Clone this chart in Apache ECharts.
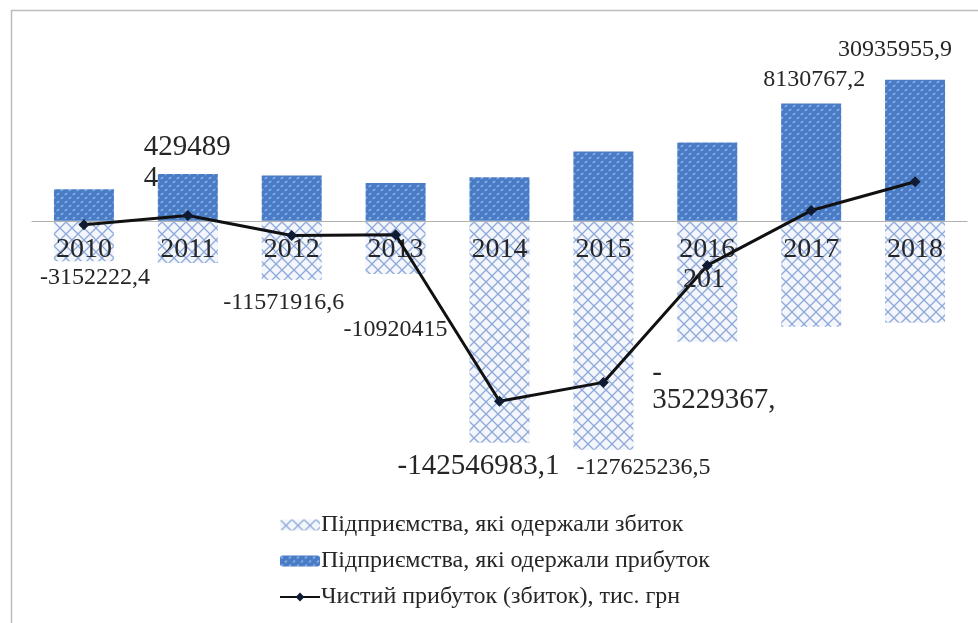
<!DOCTYPE html>
<html>
<head>
<meta charset="utf-8">
<script src="https://cdn.jsdelivr.net/npm/echarts@6/dist/echarts.min.js"></script>
<style>html,body{margin:0;padding:0;background:#fff}#c{width:978px;height:623px}</style>
</head>
<body>
<div id="c"></div>
<script>
// ---- data ----
const years = ['2010','2011','2012','2013','2014','2015','2016','2017','2018'];
const lossValues = [-32.0e6, -33.2e6, -46.6e6, -41.9e6, -175.4e6, -180.9e6, -95.6e6, -83.7e6, -80.6e6];
const profitValues = [25.0e6, 37.1e6, 35.8e6, 30.0e6, 34.5e6, 54.7e6, 61.9e6, 92.7e6, 111.4e6];
const netValues = [-3152222.4, 4294894, -11571916.6, -10920415, -142546983.1, -127625236.5, -35229367, 8130767.2, 30935955.9];
const netLabelTexts = ['-3152222,4', '429489\n4', '-11571916,6', '-10920415', '-142546983,1', '-127625236,5', '-\n35229367,', '8130767,2', '30935955,9'];
const seriesNames = ['Підприємства, які одержали збиток', 'Підприємства, які одержали прибуток', 'Чистий прибуток (збиток), тис. грн'];
const strayText = '201';

// ---- label layout (style only) ----
const labelLayout = [
  {dx: 11, dy: 53, size: 24, align: 'center'},
  {dx: -44, dy: -53, size: 29, align: 'left', lh: 31},
  {dx: -8, dy: 67, size: 24, align: 'center'},
  {dx: 0, dy: 95, size: 24, align: 'center'},
  {dx: -21, dy: 65, size: 29, align: 'center'},
  {dx: 40, dy: 85, size: 24, align: 'center'},
  {dx: -55, dy: 121, size: 29, align: 'left', lh: 27},
  {dx: 3, dy: -131, size: 24, align: 'center'},
  {dx: -20, dy: -132, size: 24, align: 'center'}
];

// ---- patterns ----
function profitPattern() {
  const c = document.createElement('canvas');
  c.width = 8; c.height = 8;
  const g = c.getContext('2d');
  g.fillStyle = '#4a7cc6';
  g.fillRect(0, 0, 8, 8);
  g.fillStyle = '#8db3ea';
  g.beginPath(); g.ellipse(2, 2, 1.6, 0.9, -0.6, 0, Math.PI * 2); g.fill();
  g.beginPath(); g.ellipse(6, 6, 1.6, 0.9, -0.6, 0, Math.PI * 2); g.fill();
  return c;
}
function lossPattern() {
  const c = document.createElement('canvas');
  c.width = 12; c.height = 12;
  const g = c.getContext('2d');
  g.fillStyle = '#f3f6fc';
  g.fillRect(0, 0, 12, 12);
  g.strokeStyle = '#8ea9d8';
  g.lineWidth = 1.3;
  g.beginPath();
  g.moveTo(0, 0); g.lineTo(12, 12);
  g.moveTo(12, 0); g.lineTo(0, 12);
  g.stroke();
  return c;
}

const serif = '"Liberation Serif", "DejaVu Serif", serif';
const chart = echarts.init(document.getElementById('c'), null, {renderer: 'canvas'});

const lineData = netValues.map((v, i) => {
  const L = labelLayout[i];
  return {
    value: v,
    label: {
      show: true,
      position: 'inside',
      formatter: () => netLabelTexts[i],
      offset: [L.dx, L.dy],
      align: L.align,
      verticalAlign: 'middle',
      fontSize: L.size,
      lineHeight: L.lh || L.size,
      fontFamily: serif,
      color: '#262626'
    }
  };
});

chart.setOption({
  animation: false,
  backgroundColor: '#ffffff',
  grid: {left: 32, right: 11, top: 31, height: 443, containLabel: false},
  xAxis: {
    type: 'category',
    data: years,
    offset: -253,
    axisLine: {onZero: false, lineStyle: {color: '#b0b0b0', width: 1.2}},
    axisTick: {show: false},
    axisLabel: {fontFamily: serif, fontSize: 28, color: '#262626', margin: 15},
    splitLine: {show: false},
    z: 5
  },
  yAxis: {
    type: 'value', min: -200e6, max: 150e6, show: false,
    splitLine: {show: false}
  },
  legend: {
    orient: 'vertical',
    left: 274, top: 508,
    itemWidth: 40, itemHeight: 11,
    itemGap: 12,
    textStyle: {fontFamily: serif, fontSize: 24, color: '#262626', padding: [0, 0, 0, -4]},
    data: seriesNames
  },
  series: [
    {
      name: seriesNames[0], type: 'bar', data: lossValues,
      barWidth: 60, barGap: '-100%',
      itemStyle: {color: {image: lossPattern(), repeat: 'repeat'}},
      z: 2
    },
    {
      name: seriesNames[1], type: 'bar', data: profitValues,
      barWidth: 60,
      itemStyle: {color: {image: profitPattern(), repeat: 'repeat'}},
      z: 2
    },
    {
      name: seriesNames[2], type: 'line', data: lineData,
      symbol: 'diamond', symbolSize: 11,
      itemStyle: {color: '#0f1a33'},
      lineStyle: {color: '#111111', width: 3},
      z: 10
    }
  ],
  graphic: [
    {type: 'rect', left: 9, top: 8, shape: {width: 990, height: 650}, style: {fill: 'none', stroke: '#bdbdbd', lineWidth: 1.5}, silent: true, z: -1},
    {type: 'text', left: 683, top: 266, style: {text: strayText, font: '28px ' + serif, fill: '#262626'}, z: 20}
  ]
});
</script>
</body>
</html>
